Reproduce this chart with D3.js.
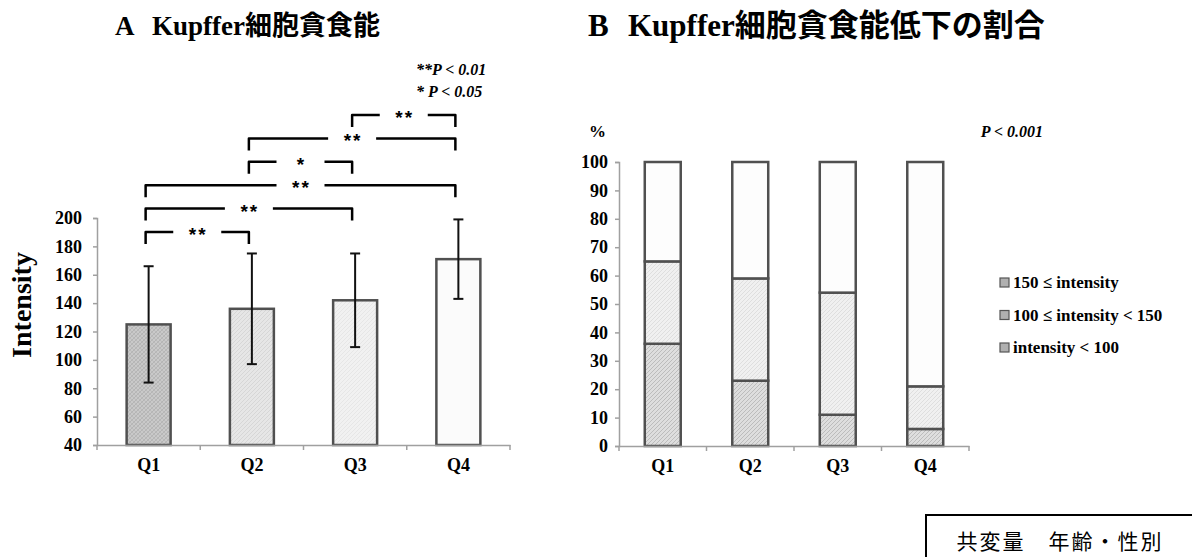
<!DOCTYPE html>
<html>
<head>
<meta charset="utf-8">
<script src="https://cdn.jsdelivr.net/npm/d3@7"></script>
<style>
  body { margin: 0; background: #fff; }
  svg { display: block; }
  text { font-family: "Liberation Serif", "Noto Sans CJK JP", serif; font-weight: bold; fill: #000; }
</style>
</head>
<body>
<svg id="chart" width="1192" height="557"></svg>
<script>
// ---- data ----
const quartiles = ['Q1', 'Q2', 'Q3', 'Q4'];

// A: phagocytic intensity, mean and SD
const meanIntensity = [125, 136, 142, 171];
const sdIntensity = [41, 39, 33, 28];
const intensityTicks = [40, 60, 80, 100, 120, 140, 160, 180, 200];

// significance brackets: [from, to, label], bottom one first
const comparisons = [
  ['Q1', 'Q2', '**'],
  ['Q1', 'Q3', '**'],
  ['Q1', 'Q4', '**'],
  ['Q2', 'Q3', '*'],
  ['Q2', 'Q4', '**'],
  ['Q3', 'Q4', '**']
];

// B: share (%) of each intensity class
const lowPct = [36, 23, 11, 6];    // intensity < 100
const midPct = [29, 36, 43, 15];   // 100 <= intensity < 150
const highPct = [35, 41, 46, 79];  // 150 <= intensity
const pctTicks = [0, 10, 20, 30, 40, 50, 60, 70, 80, 90, 100];
const legendLabels = ['150 ≤ intensity', '100 ≤ intensity < 150', 'intensity < 100'];

const svg = d3.select('#chart');
const axisColor = '#a0a0a0';

// patterns
const defs = svg.append('defs');
const hatch = (id, bg, line, cross) => {
  const p = defs.append('pattern').attr('id', id)
    .attr('patternUnits', 'userSpaceOnUse').attr('width', 4).attr('height', 4);
  p.append('rect').attr('width', 4).attr('height', 4).attr('fill', bg);
  p.append('path').attr('d', 'M-1,5 L5,-1 M-1,1 L1,-1 M3,5 L5,3')
    .attr('stroke', line).attr('stroke-width', 1);
  if (cross) p.append('path').attr('d', 'M-1,-1 L5,5 M3,-1 L5,1 M-1,3 L1,5')
    .attr('stroke', line).attr('stroke-width', 0.7);
};
hatch('pA1', '#c9c9c9', '#b4b4b4', true);
hatch('pA2', '#e6e6e6', '#d6d6d6', false);
hatch('pA3', '#f1f1f1', '#e6e6e6', false);
hatch('pLow', '#dedede', '#bcbcbc', false);
hatch('pMid', '#f0f0f0', '#dedede', false);
const fillsA = ['url(#pA1)', 'url(#pA2)', 'url(#pA3)', '#fbfbfb'];

const tickFont = sel => sel.style('font-family', '"Liberation Serif", serif')
  .style('font-weight', 'bold').attr('fill', '#000');

// ================= A =================
const xA = d3.scaleBand().domain(quartiles).range([97, 510])
  .paddingInner(0.574).paddingOuter(0.287);
const yA = d3.scaleLinear().domain([40, 200]).range([445, 218]);

svg.append('text').attr('x', 115).attr('y', 35).style('font-size', '27px').text('A');
svg.append('text').attr('x', 152).attr('y', 35).style('font-size', '27px').text('Kupffer細胞貪食能');

// y axis
const gyA = svg.append('g').attr('transform', 'translate(97,0)')
  .call(d3.axisLeft(yA).tickValues(intensityTicks).tickSize(4).tickPadding(11));
gyA.select('.domain').attr('stroke', axisColor).attr('stroke-width', 1.5);
gyA.selectAll('.tick line').attr('stroke', axisColor).attr('stroke-width', 1.5);
gyA.selectAll('.tick text').style('font-size', '18px').call(tickFont);

svg.append('text').attr('transform', 'translate(31,305) rotate(-90)')
  .attr('text-anchor', 'middle').style('font-size', '28px').text('Intensity');

// bars
svg.append('g').selectAll('rect').data(quartiles).join('rect')
  .attr('x', d => xA(d)).attr('width', xA.bandwidth())
  .attr('y', (d, i) => yA(meanIntensity[i]))
  .attr('height', (d, i) => yA(40) - yA(meanIntensity[i]))
  .attr('fill', (d, i) => fillsA[i])
  .attr('stroke', '#505050').attr('stroke-width', 2.5);

// x axis
const bottomAxis = (xs, y0) => {
  const g = svg.append('g').attr('transform', `translate(0,${y0})`)
    .call(d3.axisBottom(xs).tickSize(0).tickPadding(13));
  g.select('.domain').attr('stroke', axisColor).attr('stroke-width', 1.5);
  g.selectAll('.tick text').style('font-size', '18px').call(tickFont);
  const r = xs.range();
  d3.range(quartiles.length + 1).forEach(i => {
    const x = r[0] + i * xs.step();
    g.append('line').attr('x1', x).attr('x2', x).attr('y1', 0).attr('y2', 5)
      .attr('stroke', axisColor).attr('stroke-width', 1.5);
  });
};
bottomAxis(xA, 445);

// error bars
const eb = svg.append('g').attr('stroke', '#111').attr('stroke-width', 2);
quartiles.forEach((q, i) => {
  const cx = xA(q) + xA.bandwidth() / 2;
  const hi = yA(meanIntensity[i] + sdIntensity[i]);
  const lo = yA(meanIntensity[i] - sdIntensity[i]);
  eb.append('line').attr('x1', cx).attr('x2', cx).attr('y1', hi).attr('y2', lo);
  eb.append('line').attr('x1', cx - 5).attr('x2', cx + 5).attr('y1', hi).attr('y2', hi);
  eb.append('line').attr('x1', cx - 5).attr('x2', cx + 5).attr('y1', lo).attr('y2', lo);
});

// significance brackets
const br = svg.append('g');
comparisons.forEach(([a, b, lab], k) => {
  const x1 = xA(a) + xA.bandwidth() / 2 - 3;
  const x2 = xA(b) + xA.bandwidth() / 2 - 3;
  const y = 232 - k * 23.4;
  const mid = (x1 + x2) / 2;
  br.append('path')
    .attr('d', `M${x1},${y + 12} L${x1},${y} L${mid - 24},${y} M${mid + 24},${y} L${x2},${y} L${x2},${y + 12}`)
    .attr('fill', 'none').attr('stroke', '#000').attr('stroke-width', 2.5)
    .attr('stroke-linejoin', 'round');
  br.append('text').attr('x', mid + 1).attr('y', y + 9).attr('text-anchor', 'middle')
    .style('font-family', '"Liberation Sans", sans-serif').style('font-size', '19px')
    .style('letter-spacing', '2px').text(lab);
});

const pLeg = svg.append('g').style('font-style', 'italic').style('font-size', '16px');
pLeg.append('text').attr('x', 416).attr('y', 75).text('**P < 0.01');
pLeg.append('text').attr('x', 416).attr('y', 97).style('white-space', 'pre').text('* P < 0.05');

// ================= B =================
const xB = d3.scaleBand().domain(quartiles).range([619, 969])
  .paddingInner(0.589).paddingOuter(0.2945);
const yB = d3.scaleLinear().domain([0, 100]).range([446, 162]);

svg.append('text').attr('x', 588).attr('y', 36).style('font-size', '31px').text('B');
svg.append('text').attr('x', 628).attr('y', 36).style('font-size', '31px').text('Kupffer細胞貪食能低下の割合');

const gyB = svg.append('g').attr('transform', 'translate(619,0)')
  .call(d3.axisLeft(yB).tickValues(pctTicks).tickSize(4).tickPadding(7));
gyB.select('.domain').attr('stroke', axisColor).attr('stroke-width', 1.5);
gyB.selectAll('.tick line').attr('stroke', axisColor).attr('stroke-width', 1.5);
gyB.selectAll('.tick text').style('font-size', '18px').call(tickFont);

svg.append('text').attr('x', 589).attr('y', 137).style('font-size', '17px').text('%');
svg.append('text').attr('x', 1043).attr('y', 137).attr('text-anchor', 'end')
  .style('font-size', '16px').style('font-style', 'italic').text('P < 0.001');

const tableB = quartiles.map((q, i) => ({ q, low: lowPct[i], mid: midPct[i], high: highPct[i] }));
const keys = ['low', 'mid', 'high'];
const fillsB = { low: 'url(#pLow)', mid: 'url(#pMid)', high: '#fdfdfd' };
const stacked = d3.stack().keys(keys)(tableB);

svg.append('g').selectAll('g').data(stacked).join('g')
  .attr('fill', d => fillsB[d.key])
  .selectAll('rect').data(d => d).join('rect')
  .attr('x', d => xB(d.data.q)).attr('width', xB.bandwidth())
  .attr('y', d => yB(d[1])).attr('height', d => yB(d[0]) - yB(d[1]))
  .attr('stroke', '#505050').attr('stroke-width', 2.5);

bottomAxis(xB, 446);

// legend
const leg = svg.append('g');
legendLabels.forEach((t, i) => {
  const cy = 283 + i * 32.5;
  leg.append('rect').attr('x', 1000).attr('y', cy - 5).attr('width', 9).attr('height', 9)
    .attr('fill', '#b0b0b0').attr('stroke', '#555').attr('stroke-width', 1.2);
  leg.append('text').attr('x', 1013).attr('y', cy + 5).style('font-size', '17px').text(t);
});

// covariate box
svg.append('rect').attr('x', 926).attr('y', 515).attr('width', 280).attr('height', 60)
  .attr('fill', '#fff').attr('stroke', '#000').attr('stroke-width', 2);
svg.append('text').attr('x', 1060).attr('y', 549).attr('text-anchor', 'middle')
  .style('font-family', '"Noto Sans CJK JP", sans-serif').style('font-weight', 'normal')
  .style('font-size', '21px').style('letter-spacing', '2px').text('共変量　年齢・性別');
</script>
</body>
</html>
